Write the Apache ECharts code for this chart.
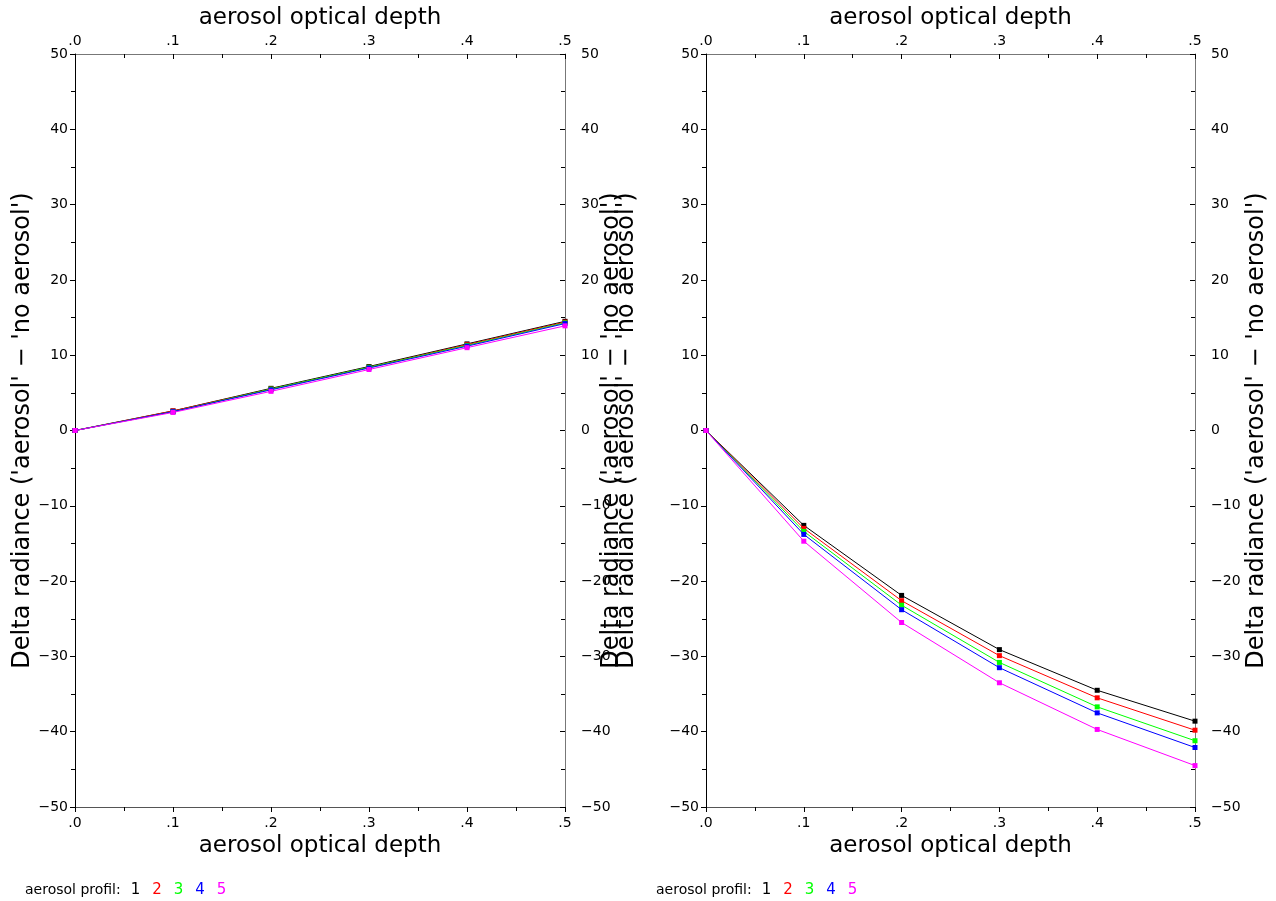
<!DOCTYPE html>
<html><head><meta charset="utf-8">
<script src="https://cdn.jsdelivr.net/npm/echarts@6/dist/echarts.min.js"></script>
<style>html,body{margin:0;padding:0;background:#fff}#c{width:1276px;height:901px}</style>
</head><body><div id="c"></div>
<script>
// Data
const depths = [0, 0.1, 0.2, 0.3, 0.4, 0.5];
const profiles = ['1', '2', '3', '4', '5'];
const profileColors = ['#000000', '#ff0000', '#00ff00', '#0000ff', '#ff00ff'];
// left panel
const left1 = [0, 2.6, 5.6, 8.5, 11.5, 14.5];
const left2 = [0, 2.6, 5.5, 8.4, 11.4, 14.4];
const left3 = [0, 2.5, 5.5, 8.4, 11.3, 14.3];
const left4 = [0, 2.5, 5.4, 8.3, 11.2, 14.2];
const left5 = [0, 2.4, 5.2, 8.1, 11.0, 13.9];
// right panel
const right1 = [0, -12.6, -21.9, -29.1, -34.5, -38.6];
const right2 = [0, -13.0, -22.6, -29.9, -35.5, -39.8];
const right3 = [0, -13.4, -23.2, -30.8, -36.7, -41.2];
const right4 = [0, -13.8, -23.8, -31.5, -37.5, -42.1];
const right5 = [0, -14.7, -25.5, -33.5, -39.7, -44.5];
const xName = 'aerosol optical depth';
const yName = "Delta radiance ('aerosol' \u2212 'no aerosol')";
const legendLabel = 'aerosol profil:';

const leftSets = [left1, left2, left3, left4, left5];
const rightSets = [right1, right2, right3, right4, right5];

const FONT = 'DejaVu Sans';
const xFmt = v => v.toFixed(1).replace(/^0/, '');
const yFmt = v => (v < 0 ? '\u2212' + Math.abs(v) : String(v));

const grids = [
  {left: 75, top: 54, width: 490, height: 753},
  {left: 706, top: 54, width: 489, height: 753}
];

function xAxis(gi, pos) {
  return {
    type: 'value', gridIndex: gi, position: pos, min: 0, max: 0.5, interval: 0.1,
    name: xName, nameLocation: 'middle', nameGap: pos === 'top' ? 24 : 26,
    nameTextStyle: {fontFamily: FONT, fontSize: 23, color: '#000'},
    axisLine: {show: true, onZero: false, lineStyle: {color: pos === 'top' ? '#777' : '#555', width: 1}},
    axisTick: {show: true, inside: pos === 'top', length: 5, lineStyle: {color: '#000'}},
    minorTick: {show: true, splitNumber: 2, length: 4, lineStyle: {color: '#000'}},
    axisLabel: {formatter: xFmt, fontFamily: FONT, fontSize: 14, color: '#000', margin: pos === 'top' ? 6 : 9},
    splitLine: {show: false}
  };
}
function yAxis(gi, pos, gap) {
  return {
    type: 'value', gridIndex: gi, position: pos, min: -50, max: 50, interval: 10,
    name: yName, nameLocation: 'middle', nameGap: gap, nameRotate: 90,
    nameTextStyle: {fontFamily: FONT, fontSize: 24, color: '#000'},
    axisLine: {show: true, onZero: false, lineStyle: {color: pos === 'left' ? '#000' : '#777', width: 1}},
    axisTick: {show: true, inside: pos === 'right', length: 5, lineStyle: {color: '#000'}},
    minorTick: {show: true, splitNumber: 2, length: 4, lineStyle: {color: '#000'}},
    axisLabel: {formatter: yFmt, fontFamily: FONT, fontSize: 14, color: '#000', margin: pos === 'left' ? 7 : 16},
    splitLine: {show: false}
  };
}

const xAxes = [xAxis(0, 'bottom'), xAxis(0, 'top'), xAxis(1, 'bottom'), xAxis(1, 'top')];
const yAxes = [yAxis(0, 'left', 30), yAxis(0, 'right', 14), yAxis(1, 'left', 82), yAxis(1, 'right', 40)];

const series = [];
[leftSets, rightSets].forEach((sets, gi) => {
  sets.forEach((vals, i) => {
    series.push({
      type: 'line', xAxisIndex: gi * 2, yAxisIndex: gi * 2,
      data: depths.map((d, k) => [d, vals[k]]),
      symbol: 'rect', symbolSize: 5, showSymbol: true,
      lineStyle: {color: profileColors[i], width: 1},
      itemStyle: {color: profileColors[i]},
      z: 2 + i, animation: false, silent: true
    });
  });
});

function legendTitle(left) {
  const rich = {lab: {fontFamily: FONT, fontSize: 14, fontWeight: 'normal', color: '#000', padding: [0, 10, 0, 0]}};
  profiles.forEach((p, i) => {
    rich['p' + i] = {fontFamily: FONT, fontSize: 15, fontWeight: 'normal', color: profileColors[i], width: 21.5};
  });
  const text = '{lab|' + legendLabel + '}' + profiles.map((p, i) => '{p' + i + '|' + p + '}').join('');
  return {text: text, left: left, top: 878, textStyle: {fontWeight: 'normal', rich: rich}};
}

const chart = echarts.init(document.getElementById('c'), null, {renderer: 'canvas'});
chart.setOption({
  backgroundColor: '#fff',
  animation: false,
  title: [legendTitle(20), legendTitle(651)],
  grid: grids,
  xAxis: xAxes,
  yAxis: yAxes,
  series: series
});
</script></body></html>
